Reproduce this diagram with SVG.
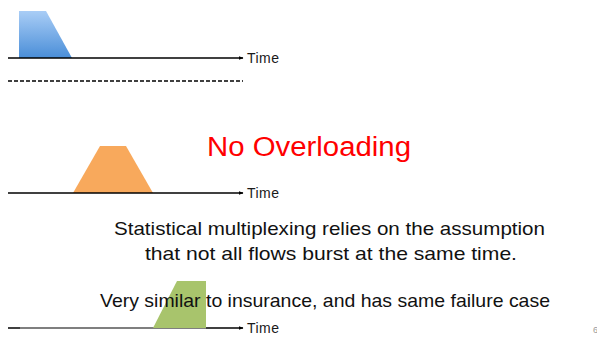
<svg xmlns="http://www.w3.org/2000/svg" width="597" height="338" viewBox="0 0 597 338">
  <style>
    .axis { stroke: #000; stroke-width: 1.5; fill: none; }
    .axis-shade { stroke: #7f7f7f; stroke-width: 2; fill: none; }
    .label { font-family: "Liberation Sans", Arial, sans-serif; font-size: 14px; fill: #1a1a1a; }
    .body { font-family: "Liberation Sans", Arial, sans-serif; font-size: 18.5px; fill: #111; text-anchor: middle; }
    .title { font-family: "Liberation Sans", Arial, sans-serif; font-size: 27px; fill: #ff0000; }
  </style>
  <defs>
    <linearGradient id="blueFill" x1="0" y1="0" x2="0" y2="1">
      <stop offset="0" stop-color="#a9cdf6"/>
      <stop offset="1" stop-color="#4a8ed8"/>
    </linearGradient>
    <marker id="arrow" viewBox="0 0 10 10" refX="9" refY="5" markerWidth="5" markerHeight="5" orient="auto" markerUnits="userSpaceOnUse">
      <path d="M0,1 L10,5 L0,9 z" fill="#000"/>
    </marker>
  </defs>

  <!-- first flow: short burst -->
  <g id="flow-blue">
    <polygon points="19,11 46,11 72,58 19,58" fill="url(#blueFill)"/>
  </g>
  <!-- second flow: wide burst -->
  <g id="flow-orange">
    <polygon points="100,146 126,146 153,193 73,193" fill="#f8a95c"/>
  </g>

  <g id="connectors">
    <line class="axis" x1="8" y1="58" x2="243" y2="58" marker-end="url(#arrow)"/>
    <line x1="8" y1="81" x2="243" y2="81" stroke="#000" stroke-width="1.4" stroke-dasharray="4,2"/>
    <line class="axis" x1="8" y1="193" x2="243" y2="193" marker-end="url(#arrow)"/>
    <line class="axis" x1="8" y1="328" x2="243" y2="328" marker-end="url(#arrow)"/>
    <line class="axis-shade" x1="20" y1="328" x2="206" y2="328"/>
  </g>

  <!-- third flow: late burst -->
  <g id="flow-green">
    <polygon points="177,281 206,281 206,328 153,328" fill="#a8c46c"/>
  </g>

  <g id="time-labels">
    <text class="label" x="247" y="63" textLength="32">Time</text>
    <text class="label" x="247" y="198" textLength="32">Time</text>
    <text class="label" x="247" y="333" textLength="32">Time</text>
  </g>

  <g id="title">
    <text class="title" x="207" y="156" textLength="204" lengthAdjust="spacingAndGlyphs">No Overloading</text>
  </g>

  <g id="notes">
    <text class="body" x="329.5" y="235" textLength="431" lengthAdjust="spacingAndGlyphs">Statistical multiplexing relies on the assumption</text>
    <text class="body" x="331" y="260" textLength="372" lengthAdjust="spacingAndGlyphs">that not all flows burst at the same time.</text>
    <text class="body" x="325" y="307" textLength="450" lengthAdjust="spacingAndGlyphs">Very similar to insurance, and has same failure case</text>
  </g>

  <text x="593" y="333" font-family="Liberation Sans, Arial, sans-serif" font-size="9" fill="#9a9a9a">6</text>
</svg>
